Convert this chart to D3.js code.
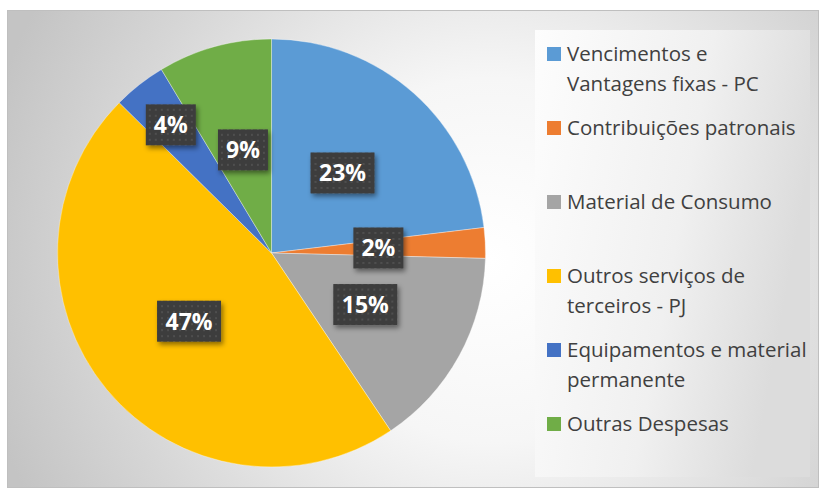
<!DOCTYPE html>
<html>
<head>
<meta charset="utf-8">
<script src="https://cdn.jsdelivr.net/npm/d3@7"></script>
<style>
  body { margin: 0; background: #ffffff; }
  svg { display: block; }
</style>
</head>
<body>
<div id="chart"></div>
<script>

//Categories of the pie, in drawing order (clockwise from the top).
const categories = [
  "Vencimentos e Vantagens fixas - PC",
  "Contribuições patronais",
  "Material de Consumo",
  "Outros serviços de terceiros - PJ",
  "Equipamentos e material permanente",
  "Outras Despesas"
];

//Share of each category, in percent.
const values = [23.1, 2.3, 15.2, 46.8, 4.0, 8.6];

//Legend text, broken into lines as in the reference.
const legendLines = [
  ["Vencimentos e", "Vantagens fixas - PC"],
  ["Contribuições patronais"],
  ["Material de Consumo"],
  ["Outros serviços de", "terceiros - PJ"],
  ["Equipamentos e material", "permanente"],
  ["Outras Despesas"]
];

const colors = ["#5B9BD5", "#ED7D31", "#A5A5A5", "#FFC000", "#4472C4", "#70AD47"];

//Set up the dimensions of the svg container.
const width = 820;
const height = 489;
const frame = { x: 7.5, y: 10.5, w: 811, h: 477 };
const pieCenter = { x: 271.5, y: 253 };
const radius = 214;

//Initialise the svg container.
const svg = d3.select("#chart")
  .append("svg")
  .attr("width", width)
  .attr("height", height);

const defs = svg.append("defs");

//Radial grey background of the chart area.
const bg = defs.append("radialGradient")
  .attr("id", "bgGrad")
  .attr("gradientUnits", "userSpaceOnUse")
  .attr("cx", 490).attr("cy", 260).attr("r", 520);
bg.append("stop").attr("offset", "0").attr("stop-color", "#ffffff");
bg.append("stop").attr("offset", "0.35").attr("stop-color", "#f6f6f6");
bg.append("stop").attr("offset", "0.75").attr("stop-color", "#d6d6d6");
bg.append("stop").attr("offset", "1").attr("stop-color", "#c4c4c4");

//Legend panel gradient, white on the left to grey on the right.
const lg = defs.append("linearGradient")
  .attr("id", "legGrad")
  .attr("x1", "0").attr("y1", "0").attr("x2", "1").attr("y2", "0.3");
lg.append("stop").attr("offset", "0").attr("stop-color", "#fdfdfd");
lg.append("stop").attr("offset", "0.6").attr("stop-color", "#f0f0f0");
lg.append("stop").attr("offset", "1").attr("stop-color", "#dcdcdc");

//Dotted texture for the label boxes.
const pat = defs.append("pattern")
  .attr("id", "dots")
  .attr("patternUnits", "userSpaceOnUse")
  .attr("width", 6).attr("height", 6);
pat.append("rect").attr("width", 6).attr("height", 6).attr("fill", "#3d3d3d");
pat.append("circle").attr("cx", 3).attr("cy", 3).attr("r", 1).attr("fill", "#555555");

//Drop shadow of the label boxes.
const shadow = defs.append("filter")
  .attr("id", "shadow")
  .attr("x", "-30%").attr("y", "-30%")
  .attr("width", "160%").attr("height", "160%");
shadow.append("feDropShadow")
  .attr("dx", 2).attr("dy", 3)
  .attr("stdDeviation", 2.5)
  .attr("flood-color", "#000")
  .attr("flood-opacity", 0.45);

//Chart frame.
svg.append("rect")
  .attr("x", frame.x).attr("y", frame.y)
  .attr("width", frame.w).attr("height", frame.h)
  .attr("fill", "url(#bgGrad)")
  .attr("stroke", "#bfbfbf")
  .attr("stroke-width", 1);

//Legend panel.
svg.append("rect")
  .attr("x", 535).attr("y", 30)
  .attr("width", 275).attr("height", 447)
  .attr("fill", "url(#legGrad)");

//Build the pie layout, keeping the order of the data.
const pie = d3.pie()
  .sort(null)
  .value(d => d);

const arcs = pie(values);

const arc = d3.arc()
  .innerRadius(0)
  .outerRadius(radius);

const pieG = svg.append("g")
  .attr("transform", `translate(${pieCenter.x},${pieCenter.y})`);

//Draw the slices.
pieG.selectAll("path")
  .data(arcs)
  .enter()
  .append("path")
  .attr("d", arc)
  .attr("fill", (d, i) => colors[i])
  .attr("stroke", "#ffffff")
  .attr("stroke-opacity", 0.5)
  .attr("stroke-width", 0.7);

//Label text, rounded percentage of the total.
const total = d3.sum(values);
const labelText = values.map(v => Math.round(v / total * 100) + "%");

//Place labels at half radius, biggest slices first; a label that collides
//with one already placed is pushed outward along its slice.
const boxH = 41;
const gapX = 22;
const gapY = 12;
const placed = [];
const order = d3.range(arcs.length).sort((a, b) => values[b] - values[a]);
order.forEach(i => {
  const d = arcs[i];
  const txt = labelText[i];
  const boxW = txt.length > 2 ? 64 : 50;
  const a = (d.startAngle + d.endAngle) / 2;
  let r = radius * 0.5;
  let x, y;
  for (;;) {
    x = Math.sin(a) * r;
    y = -Math.cos(a) * r;
    const hit = placed.some(p =>
      Math.abs(p.x - x) < (p.w + boxW) / 2 + gapX &&
      Math.abs(p.y - y) < boxH + gapY);
    if (!hit || r > radius) break;
    r += 1;
  }
  placed.push({ x: x, y: y, w: boxW, txt: txt });
});

//Draw the labels.
const labelG = pieG.selectAll("g.label")
  .data(placed)
  .enter()
  .append("g")
  .attr("class", "label")
  .attr("transform", d => `translate(${d.x},${d.y})`);

labelG.append("rect")
  .attr("x", d => -d.w / 2)
  .attr("y", -boxH / 2)
  .attr("width", d => d.w)
  .attr("height", boxH)
  .attr("fill", "url(#dots)")
  .attr("filter", "url(#shadow)");

labelG.append("text")
  .attr("text-anchor", "middle")
  .attr("y", 8.5)
  .attr("fill", "#ffffff")
  .attr("font-family", "'Open Sans', sans-serif")
  .attr("font-weight", "bold")
  .attr("font-size", "23px")
  .text(d => d.txt);

//Legend entries, evenly spaced.
const legendY = d3.scalePoint()
  .domain(categories)
  .range([54, 424]);

const legend = svg.append("g")
  .selectAll("g")
  .data(categories)
  .enter()
  .append("g")
  .attr("transform", d => `translate(547,${legendY(d)})`);

legend.append("rect")
  .attr("x", 0)
  .attr("y", -7)
  .attr("width", 14)
  .attr("height", 14)
  .attr("fill", (d, i) => colors[i]);

legend.append("text")
  .attr("x", 20)
  .attr("y", 7)
  .attr("fill", "#404040")
  .attr("font-family", "'Open Sans', sans-serif")
  .attr("font-size", "20.5px")
  .selectAll("tspan")
  .data((d, i) => legendLines[i])
  .enter()
  .append("tspan")
  .attr("x", 20)
  .attr("dy", (d, j) => j === 0 ? 0 : 30)
  .text(d => d);

</script>
</body>
</html>
